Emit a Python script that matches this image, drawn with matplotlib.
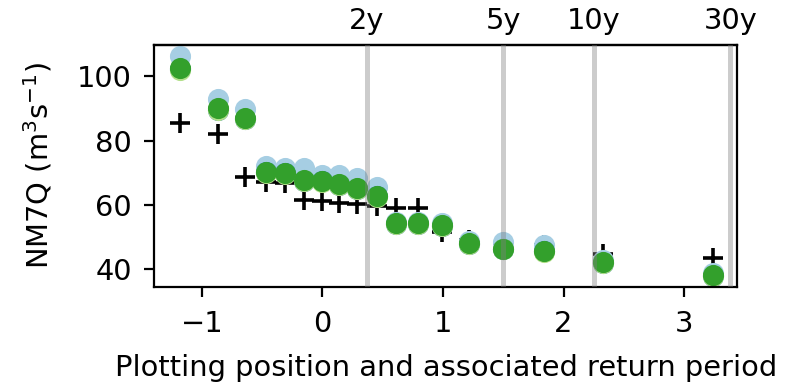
import numpy as np
import matplotlib
matplotlib.use("Agg")
import matplotlib.pyplot as plt

plt.rcParams["font.size"] = 10.4

# plotting positions (Gumbel reduced variate)
pos = [-1.182, -0.864, -0.643, -0.468, -0.311, -0.153, -0.007, 0.139, 0.289,
       0.449, 0.614, 0.792, 0.988, 1.219, 1.494, 1.837, 2.328, 3.240]

obs = [85.3, 81.9, 68.8, 67.2, 66.7, 61.7, 61.2, 60.5, 60.2,
       59.7, 59.2, 59.2, 51.6, 49.1, 48.3, 47.5, 44.7, 43.7]
sim_lightblue = [106.2, 92.8, 89.7, 72.1, 71.4, 71.4, 69.3, 69.3, 68.3,
                 65.7, 54.8, 54.7, 54.5, 48.8, 48.6, 47.5, 42.9, 39.0]
sim_darkblue = [102.2, 89.5, 86.7, 70.1, 69.8, 67.5, 67.3, 66.3, 65.0,
                62.7, 54.1, 54.1, 53.6, 48.0, 46.3, 45.6, 42.0, 38.0]
sim_lightgreen = [102.0, 89.6, 86.6, 70.0, 69.7, 67.4, 67.2, 66.2, 64.9,
                  62.6, 54.0, 54.0, 53.5, 47.9, 46.2, 45.5, 41.9, 37.9]
sim_green = [102.4, 90.0, 87.1, 70.3, 70.0, 67.7, 67.5, 66.5, 65.2,
             62.9, 54.3, 54.3, 53.8, 48.2, 46.5, 45.8, 42.2, 38.2]

periods = [2, 5, 10, 30]
period_labels = ["2y", "5y", "10y", "30y"]

fig, ax = plt.subplots(figsize=(4.015, 1.91), dpi=200)
fig.subplots_adjust(left=0.192, right=0.918, top=0.882, bottom=0.249)

ax.plot(pos, obs, "+", color="k", markersize=7.5, markeredgewidth=1.3, zorder=2)
ax.plot(pos, sim_lightblue, "o", color="#a6cee3", markersize=6.6, zorder=2.1)
ax.plot(pos, sim_darkblue, "o", color="#1f78b4", markersize=6.6, zorder=2.2)
ax.plot(pos, sim_lightgreen, "o", color="#b2df8a", markersize=6.6, zorder=2.3)
ax.plot(pos, sim_green, "o", color="#33a02c", markersize=6.6, zorder=2.4)

rp = [-np.log(-np.log(1 - 1.0 / t)) for t in periods]
for x in rp:
    ax.axvline(x, color="grey", alpha=0.4, lw=1.8, zorder=3)

ax.set_xlim(-1.395, 3.44)
ax.set_ylim(34.6, 109.6)
ax.set_yticks([40, 60, 80, 100])
ax.set_xticks([-1, 0, 1, 2, 3])
ax.tick_params(axis="x", pad=5)
ax.tick_params(axis="y", pad=4.5)

top = ax.secondary_xaxis("top")
top.set_xticks(rp)
top.set_xticklabels(period_labels)
top.tick_params(length=0)

ax.set_xlabel("Plotting position and associated return period", labelpad=5.5)
ax.set_ylabel("NM7Q (m$^3$s$^{-1}$)", labelpad=8)

fig.savefig("out.png")
